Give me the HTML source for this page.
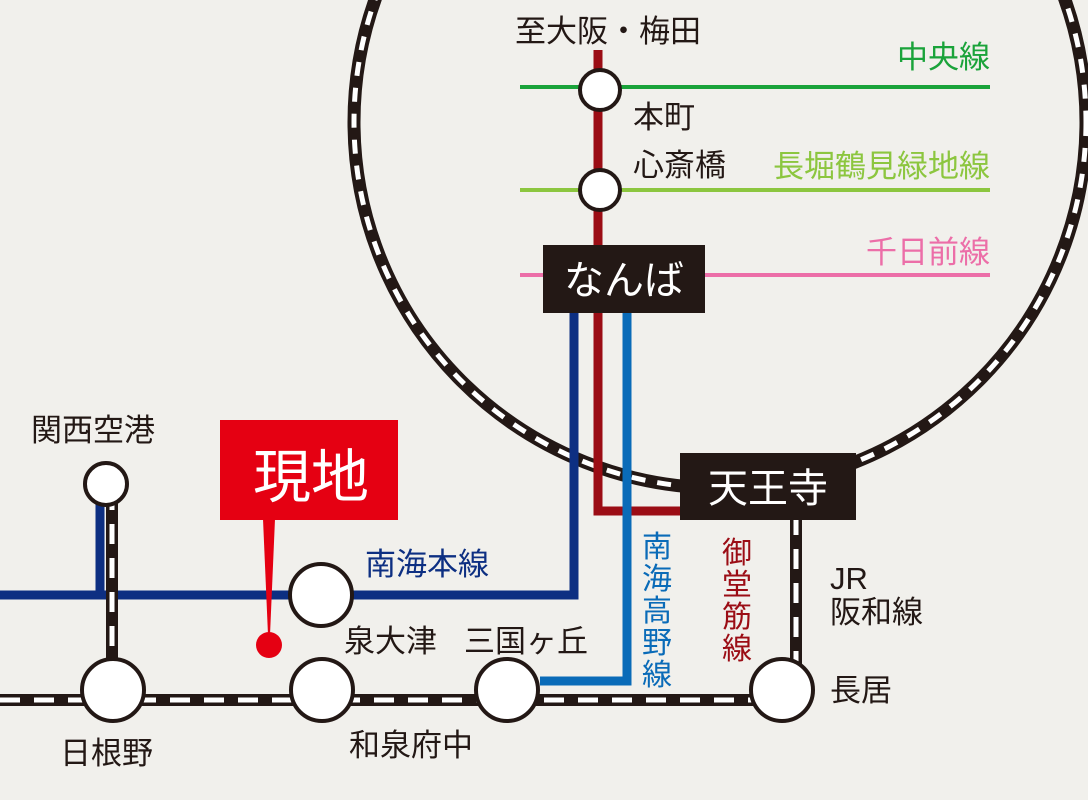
<!DOCTYPE html>
<html><head><meta charset="utf-8"><style>
body{margin:0;background:#f1f0ec;}
svg{display:block}
text{font-family:"Liberation Sans","Noto Sans CJK JP",sans-serif;}
</style></head><body>
<svg width="1088" height="800" viewBox="0 0 1088 800">
<rect width="1088" height="800" fill="#f1f0ec"/>
<circle cx="720" cy="122" r="366" fill="none" stroke="#231815" stroke-width="13"/>
<circle cx="720" cy="122" r="366" fill="none" stroke="#fff" stroke-width="5" stroke-dasharray="14 12"/>
<line x1="520" y1="87" x2="990" y2="87" stroke="#1aa33a" stroke-width="4"/>
<line x1="520" y1="190" x2="990" y2="190" stroke="#8cc63f" stroke-width="4"/>
<line x1="520" y1="275" x2="990" y2="275" stroke="#ec6ea8" stroke-width="4"/>
<polyline points="598,50 598,511 690,511" fill="none" stroke="#9b0d15" stroke-width="9"/>
<polyline points="0,595 574,595 574,310" fill="none" stroke="#0d2f82" stroke-width="9"/>
<polyline points="540,681 627,681 627,310" fill="none" stroke="#0a6bb8" stroke-width="9"/>
<line x1="100" y1="500" x2="100" y2="595" stroke="#0d2f82" stroke-width="9"/>
<g stroke="#231815" stroke-width="12"><line x1="0" y1="700" x2="790" y2="700"/><line x1="796" y1="515" x2="796" y2="690"/><line x1="112" y1="490" x2="112" y2="690"/></g>
<g stroke="#fff" stroke-width="5" stroke-dasharray="20 14"><line x1="0" y1="700" x2="790" y2="700"/><line x1="796" y1="515" x2="796" y2="690"/><line x1="112" y1="490" x2="112" y2="690"/></g>
<g fill="#fff" stroke="#231815" stroke-width="4">
<circle cx="600" cy="90" r="20"/><circle cx="600" cy="190" r="20"/><circle cx="106" cy="484" r="21"/>
<circle cx="321" cy="595" r="31"/><circle cx="113" cy="690" r="31"/><circle cx="322" cy="690" r="31"/><circle cx="507" cy="690" r="31"/><circle cx="782" cy="690" r="31"/>
</g>
<rect x="543" y="245" width="162" height="68" fill="#231815"/>
<text x="624" y="294" font-size="40" fill="#fff" text-anchor="middle">なんば</text>
<rect x="680" y="453" width="176" height="67" fill="#231815"/>
<text x="768" y="502" font-size="40" fill="#fff" text-anchor="middle">天王寺</text>
<rect x="220" y="420" width="178" height="100" fill="#e50012"/>
<text x="311" y="497" font-size="58" fill="#fff" text-anchor="middle">現地</text>
<polygon points="263,519 275,519 270,635 268,635" fill="#e50012"/>
<circle cx="269" cy="645" r="13" fill="#e50012"/>
<g font-size="31" fill="#231815">
<text x="515" y="42">至大阪・梅田</text>
<text x="633" y="128">本町</text>
<text x="633" y="176">心斎橋</text>
<text x="31" y="441">関西空港</text>
<text x="344" y="652">泉大津</text>
<text x="464" y="652">三国ヶ丘</text>
<text x="60" y="764">日根野</text>
<text x="349" y="756">和泉府中</text>
<text x="830" y="701">長居</text>
<text x="830" y="589">JR</text>
<text x="830" y="623">阪和線</text>
</g>
<text x="990" y="68" font-size="31" fill="#1aa33a" text-anchor="end">中央線</text>
<text x="990" y="177" font-size="31" fill="#8cc63f" text-anchor="end">長堀鶴見緑地線</text>
<text x="990" y="263" font-size="31" fill="#ec6ea8" text-anchor="end">千日前線</text>
<text x="365" y="575" font-size="31" fill="#0d2f82">南海本線</text>
<g font-size="30" fill="#0a6bb8"><text x="642" y="557">南</text><text x="642" y="589">海</text><text x="642" y="621">高</text><text x="642" y="653">野</text><text x="642" y="685">線</text></g>
<g font-size="30" fill="#9b0d15"><text x="722" y="563">御</text><text x="722" y="595">堂</text><text x="722" y="627">筋</text><text x="722" y="659">線</text></g>
</svg>
</body></html>
